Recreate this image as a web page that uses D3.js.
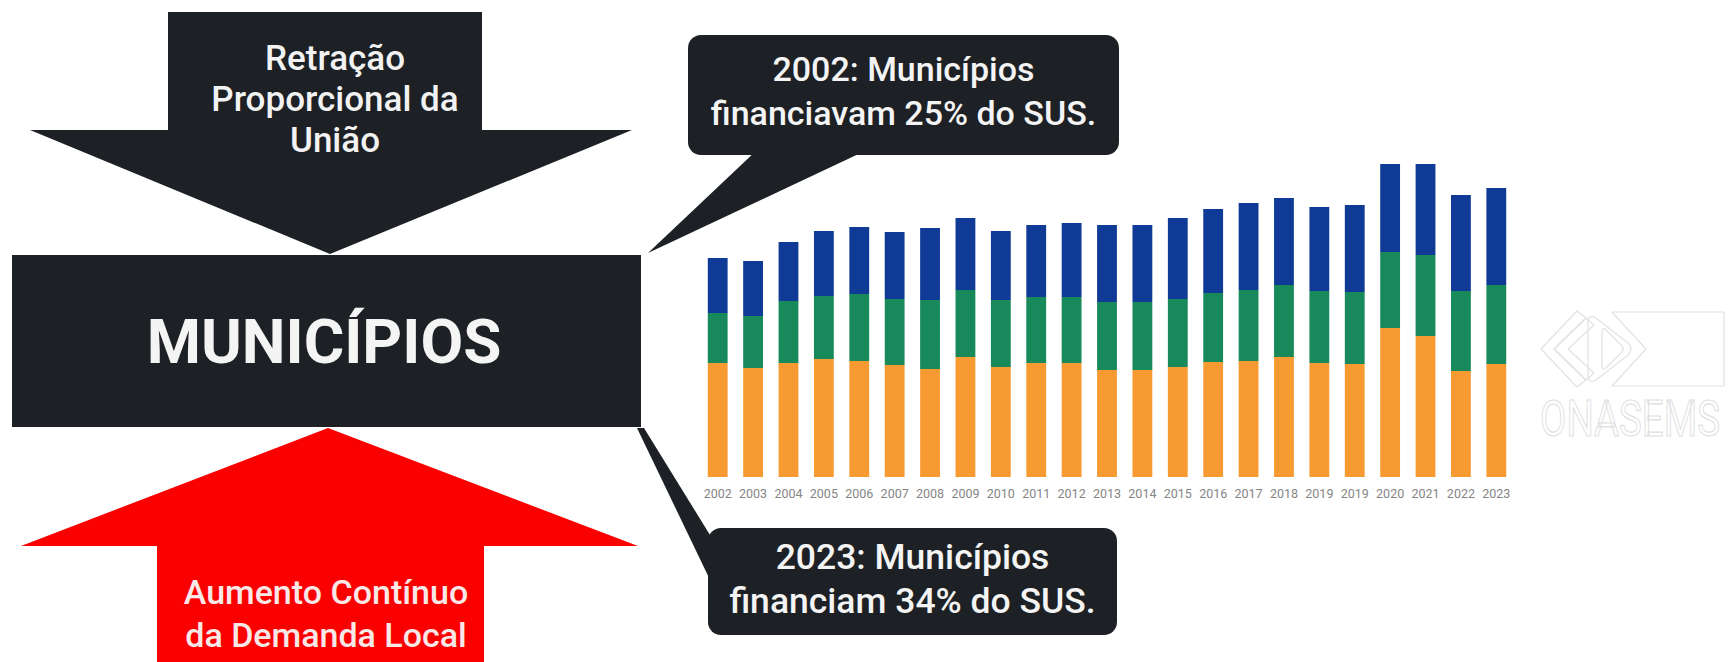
<!DOCTYPE html>
<html>
<head>
<meta charset="utf-8">
<script src="https://cdn.jsdelivr.net/npm/d3@7"></script>
<style>
  html, body { margin: 0; padding: 0; background: #ffffff; }
  svg { display: block; font-family: Roboto, "Noto Sans", sans-serif; }
</style>
</head>
<body>
<div id="chart"></div>
<script>
// anos do eixo (o original repete 2019)
const anos = ["2002", "2003", "2004", "2005", "2006", "2007", "2008", "2009", "2010", "2011", "2012",
    "2013", "2014", "2015", "2016", "2017", "2018", "2019", "2019", "2020", "2021", "2022", "2023"];

// valores (altura relativa de cada segmento)
const serieLaranja = [114, 109, 114, 118, 116, 112, 108, 120, 110, 114, 114, 107, 107, 110, 115, 116, 120, 114, 113, 149, 141, 106, 113];
const serieVerde   = [50, 52, 62, 63, 67, 66, 69, 67, 67, 66, 66, 68, 68, 68, 69, 71, 72, 72, 72, 76, 81, 80, 79];
const serieAzul    = [55, 55, 59, 65, 67, 67, 72, 72, 69, 72, 74, 77, 77, 81, 84, 87, 87, 84, 87, 88, 91, 96, 97];

const seriesKeys = ["laranja", "verde", "azul"];
const seriesColors = ["#f89a32", "#17895a", "#0f3a95"];

const textoUniao = ["Retração", "Proporcional da", "União"];
const textoDemanda = ["Aumento Contínuo", "da Demanda Local"];
const texto2002 = ["2002: Municípios", "financiavam 25% do SUS."];
const texto2023 = ["2023: Municípios", "financiam 34% do SUS."];

const width = 1729;
const height = 662;
const dark = "#1d2125";

const svg = d3.select("#chart").append("svg")
    .attr("width", width)
    .attr("height", height);

svg.append("rect").attr("width", width).attr("height", height).attr("fill", "#ffffff");

const line = d3.line();

// seta de cima (preta)
svg.append("path")
    .attr("d", line([[168, 12], [482, 12], [482, 130], [632, 130], [330, 254], [30, 130], [168, 130]]) + "Z")
    .attr("fill", dark);

// seta de baixo (vermelha)
svg.append("path")
    .attr("d", line([[328, 428], [638, 546], [484, 546], [484, 670], [157, 670], [157, 546], [21, 546]]) + "Z")
    .attr("fill", "#fb0000");

// caixa MUNICÍPIOS
svg.append("rect")
    .attr("x", 12).attr("y", 255)
    .attr("width", 629).attr("height", 172)
    .attr("fill", dark);

svg.append("text")
    .attr("x", 324).attr("y", 363)
    .attr("text-anchor", "middle")
    .attr("font-size", 62)
    .attr("font-weight", 700)
    .attr("fill", "#f4f4f4")
    .text("MUNICÍPIOS");

svg.append("g")
    .selectAll("text")
    .data(textoUniao)
    .join("text")
    .attr("x", 335)
    .attr("y", (d, i) => 70 + i * 41)
    .attr("text-anchor", "middle")
    .attr("font-size", 35)
    .attr("font-weight", 500)
    .attr("fill", "#f2f2f2")
    .text(d => d);

svg.append("g")
    .selectAll("text")
    .data(textoDemanda)
    .join("text")
    .attr("x", 326)
    .attr("y", (d, i) => 604 + i * 43)
    .attr("text-anchor", "middle")
    .attr("font-size", 34)
    .attr("font-weight", 500)
    .attr("fill", "#f8e8e8")
    .text(d => d);

// balões
function balloon(box, tail, lines, baseline, fontSize) {
    const g = svg.append("g");
    g.append("path")
        .attr("d", line(tail) + "Z")
        .attr("fill", dark);
    g.append("rect")
        .attr("x", box[0]).attr("y", box[1])
        .attr("width", box[2]).attr("height", box[3])
        .attr("rx", 13)
        .attr("fill", dark);
    g.selectAll("text")
        .data(lines)
        .join("text")
        .attr("x", box[0] + box[2] / 2)
        .attr("y", (d, i) => baseline + i * 44)
        .attr("text-anchor", "middle")
        .attr("font-size", fontSize)
        .attr("font-weight", 500)
        .attr("fill", "#f4f4f4")
        .text(d => d);
}

balloon([688, 35, 431, 120], [[757, 150], [867, 150], [648, 253]], texto2002, 81, 34);
balloon([708, 528, 409, 107], [[637, 428], [644, 428], [718, 548], [712, 584]], texto2023, 569, 35.5);

// grafico de barras empilhadas
const data = anos.map((ano, i) => ({
    idx: i,
    laranja: serieLaranja[i],
    verde: serieVerde[i],
    azul: serieAzul[i]
}));

const x = d3.scaleBand()
    .domain(d3.range(anos.length))
    .range([700, 1514])
    .paddingInner(0.44)
    .paddingOuter(0.22);

const y = d3.scaleLinear()
    .domain([0, 313])
    .range([477, 164]);

const stacked = d3.stack().keys(seriesKeys)(data);

svg.append("g")
    .selectAll("g")
    .data(stacked)
    .join("g")
    .attr("fill", (d, i) => seriesColors[i])
    .selectAll("rect")
    .data(d => d)
    .join("rect")
    .attr("x", d => x(d.data.idx))
    .attr("y", d => y(d[1]))
    .attr("width", x.bandwidth())
    .attr("height", d => y(d[0]) - y(d[1]));

const xAxis = svg.append("g")
    .attr("transform", "translate(0,486)")
    .call(d3.axisBottom(x).tickSize(0).tickFormat(i => anos[i]));
xAxis.select(".domain").remove();
xAxis.selectAll("text")
    .attr("font-size", 12.5)
    .attr("font-family", "Roboto, sans-serif")
    .attr("fill", "#858585");

// logo ONASEMS (quase branco)
const logo = svg.append("g")
    .attr("fill", "none")
    .attr("stroke", "#e2e2e2")
    .attr("stroke-width", 1.2)
    .attr("stroke-linejoin", "round");

logo.append("path").attr("d", line([[1541, 349], [1577, 311], [1586, 318], [1554, 349], [1586, 380], [1577, 387]]) + "Z");
logo.append("path").attr("d", line([[1554, 349], [1586, 318], [1594, 325], [1568, 349], [1594, 373], [1586, 380]]) + "Z");
logo.append("path").attr("d", "M1588,322 Q1588,314 1596,318 L1628,343 Q1634,349 1628,355 L1596,380 Q1588,384 1588,376 Z");
logo.append("path").attr("d", "M1602,331 Q1602,327 1606,330 L1621,345 Q1625,349 1621,353 L1606,368 Q1602,371 1602,367 Z");
logo.append("path").attr("d", line([[1612, 312], [1724, 312], [1724, 386], [1612, 386], [1646, 349]]) + "Z");

// texto do logo, estreitado para caber ate a borda
const logoText = svg.append("text")
    .attr("x", 0).attr("y", 0)
    .attr("font-size", 50)
    .attr("font-family", "Roboto, sans-serif")
    .attr("fill", "#ffffff")
    .attr("stroke", "#dedede")
    .attr("stroke-width", 1.1)
    .text("ONASEMS");
const natural = logoText.node().getComputedTextLength();
const sx = 180 / natural;
logoText.attr("transform", `translate(1540,436) scale(${sx},1)`);
</script>
</body>
</html>
